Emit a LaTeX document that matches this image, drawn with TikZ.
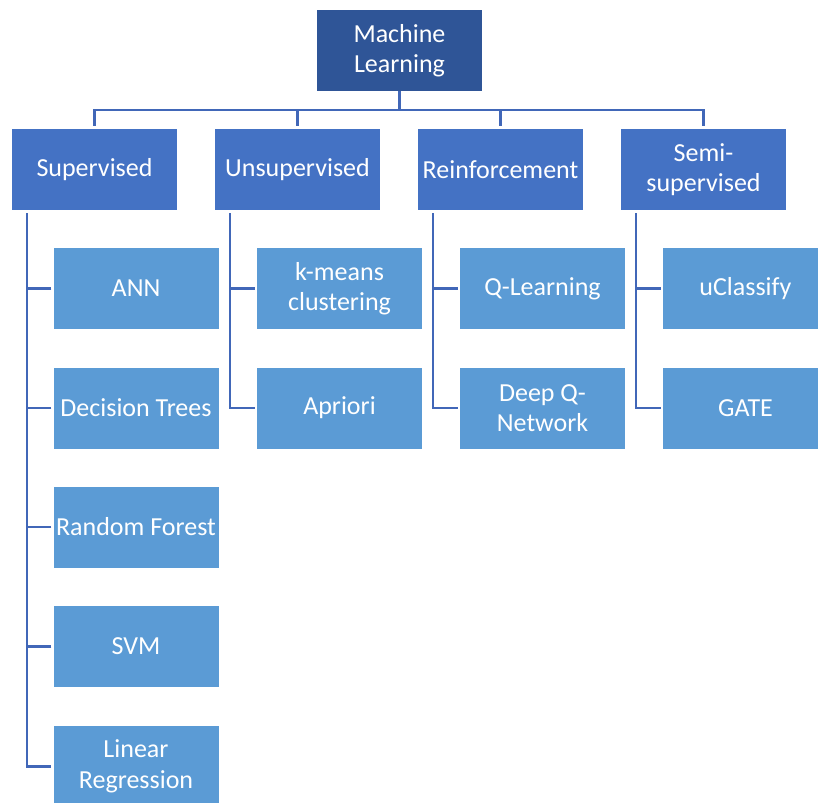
\documentclass[tikz,border=0pt]{standalone}
\usepackage{fontspec}
\setmainfont{Carlito}
\definecolor{rootblue}{HTML}{2F5597}
\definecolor{catblue}{HTML}{4472C4}
\definecolor{leafblue}{HTML}{5B9BD5}
\definecolor{linkblue}{HTML}{4167B8}
\begin{document}
\begin{tikzpicture}[x=1pt,y=-1pt,
  box/.style={rectangle, minimum width=165pt, minimum height=81pt, inner sep=2pt,
    align=center, text=white, font=\fontsize{26}{30.5}\selectfont},
  root/.style={box, fill=rootblue},
  cat/.style={box, fill=catblue},
  leaf/.style={box, fill=leafblue},
  conn/.style={draw=linkblue, line width=2.5pt}]
\useasboundingbox (0,0) rectangle (818,802);
\clip (0,0) rectangle (818,802);

% top of the tree
\node[root] (ml) at (399.5,50.5) {Machine\\Learning};

% learning categories
\node[cat] (sup)   at (94.5,169.5)  {Supervised};
\node[cat] (unsup) at (297.5,169.5) {Unsupervised};
\node[cat] (reinf) at (500.5,169.5) {Reinforcement};
\node[cat] (semi)  at (703.5,169.5) {Semi-\\supervised};

% algorithms
\node[leaf] (ann) at (136,288.5) {ANN};
\node[leaf] (dt)  at (136,408)   {Decision Trees};
\node[leaf] (rf)  at (136,527)   {Random Forest};
\node[leaf] (svm) at (136,646.5) {SVM};
\node[leaf] (lr)  at (136,766.5) {Linear\\Regression};

\node[leaf] (km)  at (339.5,288.5) {k-means\\clustering};
\node[leaf] (apr) at (339.5,408)   {Apriori};

\node[leaf] (ql)  at (542.5,288.5) {Q-Learning};
\node[leaf] (dqn) at (542.5,408)   {Deep Q-\\Network};

\node[leaf] (ucl)  at (745.5,288.5) {uClassify};
\node[leaf] (gate) at (745.5,408)   {GATE};

% root to categories
\coordinate (bar) at (399.5,110);
\draw[conn] (ml.south) -- (bar);
\foreach \c in {sup,unsup,reinf,semi}
  \draw[conn] ([yshift=3pt]\c.north) |- (bar);

% category trunks and branches
\foreach \c/\last in {sup/lr,unsup/apr,reinf/dqn,semi/gate} {
  \coordinate (\c-t) at ([xshift=15pt,yshift=-3pt]\c.south west);
  \draw[conn] (\c-t) |- ([xshift=-2pt]\last.west);
}
\foreach \c/\l in {sup/ann,sup/dt,sup/rf,sup/svm,unsup/km,reinf/ql,semi/ucl}
  \draw[conn] ([xshift=-2pt]\l.west) -- (\c-t |- \l.west);
\end{tikzpicture}
\end{document}
